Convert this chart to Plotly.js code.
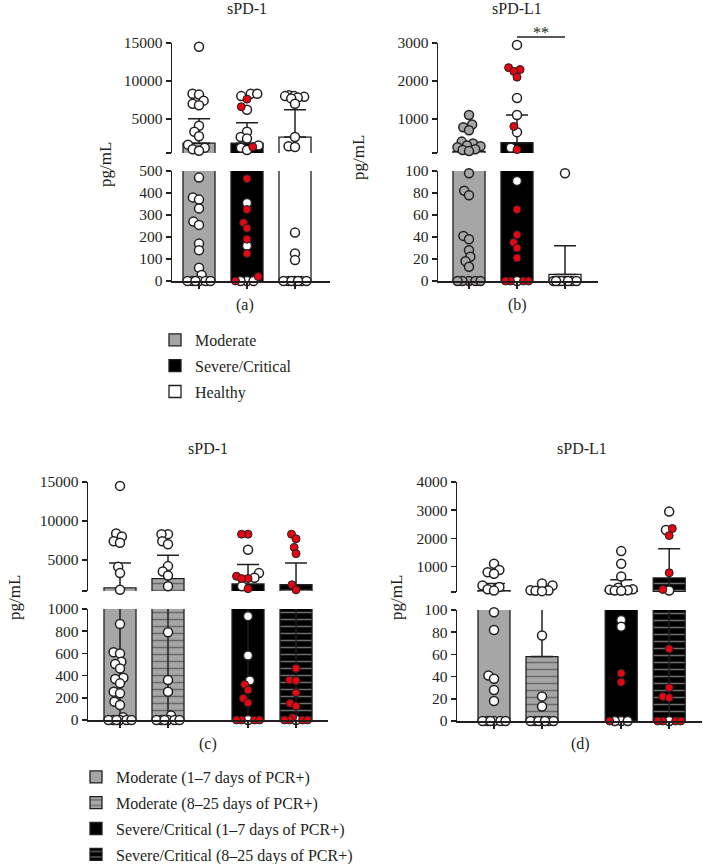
<!DOCTYPE html>
<html><head><meta charset="utf-8">
<script src="https://cdn.plot.ly/plotly-3.0.1.min.js"></script>
<style>html,body{margin:0;padding:0;background:#fff}#chart{width:703px;height:864px}</style>
</head><body><div id="chart"></div>
<script>
// ================= DATA (pg/mL) =================
// (a) sPD-1
const aCategories = ['Moderate', 'Severe/Critical', 'Healthy'];
const aMeans = [1800, 1800, 2600];
const aSD = [3200, 2700, 3600];
const aModerate = [14500, 8300, 8200, 7400, 7000, 6800, 4100, 3300, 2700, 1600, 1200, 1000, 800, 470, 380, 370, 330, 270, 255, 170, 140, 60, 27, 0, 0, 0, 0, 0, 0];
const aSevereWhite = [8300, 8300, 8000, 6200, 3300, 2600, 2400, 1500, 1200, 900, 355, 160, 0, 0, 0];
const aSevereRed = [7600, 6600, 1300, 465, 325, 265, 240, 190, 125, 20, 0];
const aHealthy = [8100, 8000, 8000, 7900, 7800, 7700, 7000, 2600, 1400, 1300, 220, 125, 95, 0, 0, 0, 0, 0, 0, 0];

// (b) sPD-L1
const bMeans = [140, 370, 6];
const bSD = [0, 730, 26];
const bModerate = [1100, 850, 780, 700, 400, 350, 300, 280, 250, 200, 180, 150, 98, 82, 78, 41, 38, 28, 22, 18, 13, 0, 0, 0, 0, 0];
const bSevereWhite = [2950, 1550, 1100, 650, 240, 91, 0];
const bSevereRed = [2350, 2300, 2250, 2100, 800, 190, 65, 42, 35, 30, 21, 0, 0, 0, 0];
const bHealthy = [98, 0, 0, 0, 0, 0, 0, 0, 0];

// (c) sPD-1 by days of PCR+
const cdCategories = ['Moderate (1\u20137 days of PCR+)', 'Moderate (8\u201325 days of PCR+)', 'Severe/Critical (1\u20137 days of PCR+)', 'Severe/Critical (8\u201325 days of PCR+)'];
const cMeans = [1400, 2600, 1900, 1800];
const cSD = [3200, 3000, 2500, 2800];
const cMod17 = [14500, 8400, 8000, 7400, 7200, 4100, 3300, 1150, 865, 610, 600, 525, 505, 465, 380, 370, 330, 255, 240, 165, 135, 25, 0, 0, 0, 0, 0, 0];
const cMod825 = [8300, 8300, 7400, 7000, 4200, 3500, 3000, 1600, 790, 360, 255, 40, 0, 0, 0, 0, 0, 0];
const cSev17White = [6300, 3300, 2700, 1600, 935, 580, 355, 0];
const cSev17Red = [8300, 8300, 2900, 2600, 2600, 1300, 320, 270, 195, 155, 0, 0, 0, 0];
const cSev825White = [0];
const cSev825Red = [8300, 7700, 6600, 5800, 1800, 1150, 465, 360, 355, 245, 150, 125, 20, 0, 0, 0, 0];

// (d) sPD-L1 by days of PCR+
const dMeans = [150, 58, 170, 600];
const dSD = [250, 70, 360, 1030];
const dMod17 = [1100, 880, 800, 750, 330, 280, 200, 150, 98, 82, 41, 38, 28, 18, 0, 0, 0, 0, 0, 0];
const dMod825 = [400, 330, 160, 150, 140, 130, 77, 22, 13, 0, 0, 0, 0, 0, 0, 0];
const dSev17White = [1550, 1100, 650, 250, 200, 180, 160, 150, 140, 91, 85, 0, 0, 0];
const dSev17Red = [43, 35, 0];
const dSev825White = [2950, 2300, 150, 0];
const dSev825Red = [2350, 2100, 780, 190, 65, 30, 22, 21, 0, 0, 0, 0];

// ================= STYLE / LAYOUT =================
const FONT = '"Liberation Serif", "Times New Roman", serif';
const INK = '#231f20';
const W = 703, H = 864;
const PX_PER_UNIT = 48;
const BAR_W = 0.667;
const px2x = p => p / W, px2y = p => 1 - p / H;

const barStyles = {
  moderate: {color: '#a6a6a6'},
  severe: {color: '#000000'},
  healthy: {color: '#ffffff'},
  moderateLate: {color: '#a6a6a6', pattern: {shape: '-', bgcolor: '#a6a6a6', fgcolor: '#2b2b2b', size: 7, solidity: 0.22, fillmode: 'overlay'}},
  severeLate: {color: '#000000', pattern: {shape: '-', bgcolor: '#000000', fgcolor: '#d9d9d9', size: 7, solidity: 0.22, fillmode: 'overlay'}}
};
const dotStyles = {
  white: {color: '#ffffff', size: 9, line: {color: INK, width: 1.5}},
  gray: {color: '#a6a6a6', size: 9, line: {color: INK, width: 1.5}},
  red: {color: '#e30613', size: 8, line: {color: INK, width: 1}}
};

const abXpos = [0, 1, 2];
const cXpos = [0, 1, 2.667, 3.667];
const dXpos = [0, 1, 2.65, 3.65];

const panels = [
  {title: 'sPD-1', label: '(a)', xa: 'x', yb: 'y', yt: 'y2',
    xDom: [172, 330], bDom: [171, 281], tDom: [43, 153], firstCenter: 199,
    bRange: [0, 500], tRange: [500, 15000], bTicks: [0, 100, 200, 300, 400, 500], tTicks: [5000, 10000, 15000],
    titlePos: [247, 9], labelPos: [245, 305], yTitlePos: [105, 165], legend: 'legend',
    groups: [
      {name: aCategories[0], x: abXpos[0], mean: aMeans[0], sd: aSD[0], down: false, style: 'moderate', dots: [[aModerate, 'white']]},
      {name: aCategories[1], x: abXpos[1], mean: aMeans[1], sd: aSD[1], down: false, style: 'severe', dots: [[aSevereWhite, 'white'], [aSevereRed, 'red']]},
      {name: aCategories[2], x: abXpos[2], mean: aMeans[2], sd: aSD[2], down: false, style: 'healthy', dots: [[aHealthy, 'white']]}
    ]},
  {title: 'sPD-L1', label: '(b)', xa: 'x2', yb: 'y3', yt: 'y4',
    xDom: [438, 598], bDom: [171, 281], tDom: [43, 153], firstCenter: 469,
    bRange: [0, 100], tRange: [100, 3000], bTicks: [0, 20, 40, 60, 80, 100], tTicks: [1000, 2000, 3000],
    titlePos: [517, 9], labelPos: [517, 305], yTitlePos: [359, 158], legend: null,
    groups: [
      {name: aCategories[0], x: abXpos[0], mean: bMeans[0], sd: bSD[0], down: false, style: 'moderate', dots: [[bModerate, 'gray']]},
      {name: aCategories[1], x: abXpos[1], mean: bMeans[1], sd: bSD[1], down: false, style: 'severe', dots: [[bSevereWhite, 'white'], [bSevereRed, 'red']]},
      {name: aCategories[2], x: abXpos[2], mean: bMeans[2], sd: bSD[2], down: false, style: 'healthy', dots: [[bHealthy, 'white']]}
    ]},
  {title: 'sPD-1', label: '(c)', xa: 'x3', yb: 'y5', yt: 'y6',
    xDom: [88, 328], bDom: [609, 720], tDom: [482, 591], firstCenter: 120,
    bRange: [0, 1000], tRange: [1000, 15000], bTicks: [0, 200, 400, 600, 800, 1000], tTicks: [5000, 10000, 15000],
    titlePos: [208, 448], labelPos: [208, 744], yTitlePos: [14, 598], legend: 'legend2',
    groups: [
      {name: cdCategories[0], x: cXpos[0], mean: cMeans[0], sd: cSD[0], down: true, style: 'moderate', dots: [[cMod17, 'white']]},
      {name: cdCategories[1], x: cXpos[1], mean: cMeans[1], sd: cSD[1], down: true, style: 'moderateLate', dots: [[cMod825, 'white']]},
      {name: cdCategories[2], x: cXpos[2], mean: cMeans[2], sd: cSD[2], down: true, style: 'severe', dots: [[cSev17White, 'white'], [cSev17Red, 'red']]},
      {name: cdCategories[3], x: cXpos[3], mean: cMeans[3], sd: cSD[3], down: true, style: 'severeLate', dots: [[cSev825White, 'white'], [cSev825Red, 'red']]}
    ]},
  {title: 'sPD-L1', label: '(d)', xa: 'x4', yb: 'y7', yt: 'y8',
    xDom: [457, 702], bDom: [610, 721], tDom: [482, 592], firstCenter: 494,
    bRange: [0, 100], tRange: [100, 4000], bTicks: [0, 20, 40, 60, 80, 100], tTicks: [1000, 2000, 3000, 4000],
    titlePos: [582, 448], labelPos: [580, 744], yTitlePos: [396, 598], legend: null,
    groups: [
      {name: cdCategories[0], x: dXpos[0], mean: dMeans[0], sd: dSD[0], down: false, style: 'moderate', dots: [[dMod17, 'white']]},
      {name: cdCategories[1], x: dXpos[1], mean: dMeans[1], sd: dSD[1], down: false, style: 'moderateLate', dots: [[dMod825, 'white']]},
      {name: cdCategories[2], x: dXpos[2], mean: dMeans[2], sd: dSD[2], down: false, style: 'severe', dots: [[dSev17White, 'white'], [dSev17Red, 'red']]},
      {name: cdCategories[3], x: dXpos[3], mean: dMeans[3], sd: dSD[3], down: true, style: 'severeLate', dots: [[dSev825White, 'white'], [dSev825Red, 'red']]}
    ]}
];

// ---------- beeswarm (pixel space) ----------
function swarm(items, pxY, D, maxHalf) {
  const order = items.map((_, i) => i).sort((i, j) => (items[i].v - items[j].v) || (i - j));
  const placed = [];
  order.forEach(i => {
    const y = pxY(items[i].v);
    const near = placed.filter(q => Math.abs(q.y - y) < D);
    let cands = [0];
    near.forEach(q => { const dx = Math.sqrt(D * D - (q.y - y) ** 2); cands.push(q.x + dx, q.x - dx); });
    cands = cands.filter(c => Math.abs(c) <= maxHalf + 1e-6).sort((a, b) => (Math.abs(a) - Math.abs(b)) || (a - b));
    let best = null;
    for (const c of cands) {
      if (near.every(q => Math.hypot(q.x - c, q.y - y) >= D - 1e-6)) { best = c; break; }
    }
    if (best === null) {
      let score = -1;
      for (let c = -maxHalf; c <= maxHalf + 1e-9; c += 0.5) {
        const s = Math.min(...near.map(q => Math.hypot(q.x - c, q.y - y)));
        if (s > score + 1e-9) { score = s; best = c; }
      }
    }
    placed.push({x: best, y: y});
    items[i].dx = best;
  });
}

const traces = [];
const dotTraces = [];
const layout = {
  width: W, height: H, margin: {l: 0, r: 0, t: 0, b: 0, autoexpand: false},
  paper_bgcolor: '#ffffff', plot_bgcolor: 'rgba(0,0,0,0)',
  barmode: 'overlay', showlegend: true, hovermode: false,
  font: {family: FONT, color: INK, size: 16},
  annotations: [], shapes: [],
  legend: {x: px2x(155), xanchor: 'left', y: px2y(323), yanchor: 'top', bgcolor: 'rgba(0,0,0,0)',
    font: {family: FONT, size: 16, color: INK}, tracegroupgap: 2, itemclick: false, itemdoubleclick: false},
  legend2: {x: px2x(76), xanchor: 'left', y: px2y(760), yanchor: 'top', bgcolor: 'rgba(0,0,0,0)',
    font: {family: FONT, size: 16, color: INK}, tracegroupgap: 2, itemclick: false, itemdoubleclick: false}
};

const axKey = id => (id[0] === 'x' ? 'xaxis' : 'yaxis') + id.slice(1);
const tickFont = {family: FONT, size: 15.5, color: INK};

panels.forEach((p, pi) => {
  const xr = [(p.xDom[0] - p.firstCenter) / PX_PER_UNIT, (p.xDom[1] - p.firstCenter) / PX_PER_UNIT];
  layout[axKey(p.xa)] = {
    domain: [px2x(p.xDom[0]), px2x(p.xDom[1])], range: xr, anchor: p.yb,
    showline: true, linecolor: INK, linewidth: 1.5, ticks: 'outside', ticklen: 6, tickwidth: 1.5, tickcolor: INK,
    tickmode: 'array', tickvals: p.groups.map(g => g.x), showticklabels: false,
    showgrid: false, zeroline: false, fixedrange: true
  };
  const yBase = {anchor: p.xa, showline: true, linecolor: INK, linewidth: 1.5, ticks: 'outside', ticklen: 5,
    tickwidth: 1.5, tickcolor: INK, tickfont: tickFont, showgrid: false, zeroline: false, fixedrange: true, tickmode: 'array'};
  layout[axKey(p.yb)] = Object.assign({}, yBase, {
    domain: [px2y(p.bDom[1]), px2y(p.bDom[0])], range: p.bRange,
    tickvals: p.bTicks, ticktext: p.bTicks.map(String)
  });
  layout[axKey(p.yt)] = Object.assign({}, yBase, {
    domain: [px2y(p.tDom[1]), px2y(p.tDom[0])], range: p.tRange,
    tickvals: [p.tRange[0]].concat(p.tTicks), ticktext: [''].concat(p.tTicks.map(String))
  });

  // bars (bottom + top segment)
  p.groups.forEach((g, gi) => {
    const st = barStyles[g.style];
    [p.yb, p.yt].forEach((ya, si) => {
      const marker = {color: st.color, line: {color: INK, width: 1.3}};
      if (st.pattern) marker.pattern = st.pattern;
      traces.push({
        type: 'bar', x: [g.x], y: [g.mean], width: [BAR_W], xaxis: p.xa, yaxis: ya,
        name: g.name, legendgroup: 'p' + pi + 'g' + gi,
        showlegend: si === 0 && !!p.legend, legend: p.legend || 'legend',
        marker: marker, hoverinfo: 'skip',
        error_y: {type: 'data', symmetric: false, array: [g.sd], arrayminus: [g.down ? g.sd : 0],
          color: INK, thickness: 1.5, width: 11}
      });
    });

    // dots
    const pxY = v => {
      if (v <= p.bRange[1]) return p.bDom[1] - (v - p.bRange[0]) / (p.bRange[1] - p.bRange[0]) * (p.bDom[1] - p.bDom[0]);
      return p.tDom[1] - (v - p.tRange[0]) / (p.tRange[1] - p.tRange[0]) * (p.tDom[1] - p.tDom[0]);
    };
    const items = [];
    g.dots.forEach(([arr, col]) => arr.forEach(v => items.push({v: v, col: col})));
    swarm(items, pxY, 6.5, 11.5);
    const buckets = {};
    items.forEach(it => {
      const seg = it.v <= p.bRange[1] ? p.yb : p.yt;
      const k = it.col + '|' + seg;
      if (!buckets[k]) buckets[k] = {col: it.col, seg: seg, x: [], y: []};
      buckets[k].x.push(g.x + it.dx / PX_PER_UNIT);
      buckets[k].y.push(it.v);
    });
    Object.values(buckets).sort((a, b) => (a.col === 'red') - (b.col === 'red')).forEach(b => {
      dotTraces.push({type: 'scatter', mode: 'markers', x: b.x, y: b.y, xaxis: p.xa, yaxis: b.seg,
        marker: dotStyles[b.col], cliponaxis: false, showlegend: false, hoverinfo: 'skip'});
    });
  });

  // texts
  layout.annotations.push(
    {text: p.title, xref: 'paper', yref: 'paper', x: px2x(p.titlePos[0]), y: px2y(p.titlePos[1]),
      xanchor: 'center', yanchor: 'middle', showarrow: false, font: {family: FONT, size: 16, color: INK}},
    {text: p.label, xref: 'paper', yref: 'paper', x: px2x(p.labelPos[0]), y: px2y(p.labelPos[1]),
      xanchor: 'center', yanchor: 'middle', showarrow: false, font: {family: FONT, size: 16, color: INK}},
    {text: 'pg/mL', xref: 'paper', yref: 'paper', x: px2x(p.yTitlePos[0]), y: px2y(p.yTitlePos[1]),
      xanchor: 'center', yanchor: 'middle', textangle: -90, showarrow: false, font: {family: FONT, size: 17, color: INK}}
  );
});

// significance bracket in (b): Severe/Critical vs Healthy
layout.shapes.push({type: 'line', xref: 'x2', yref: 'paper', x0: abXpos[1], x1: abXpos[2],
  y0: px2y(37), y1: px2y(37), line: {color: INK, width: 1.5}});
layout.annotations.push({text: '**', xref: 'x2', yref: 'paper', x: (abXpos[1] + abXpos[2]) / 2, y: px2y(33),
  xanchor: 'center', yanchor: 'middle', showarrow: false, font: {family: FONT, size: 16, color: INK}});

Plotly.newPlot('chart', traces.concat(dotTraces), layout, {staticPlot: true, displayModeBar: false});
</script>
</body></html>
